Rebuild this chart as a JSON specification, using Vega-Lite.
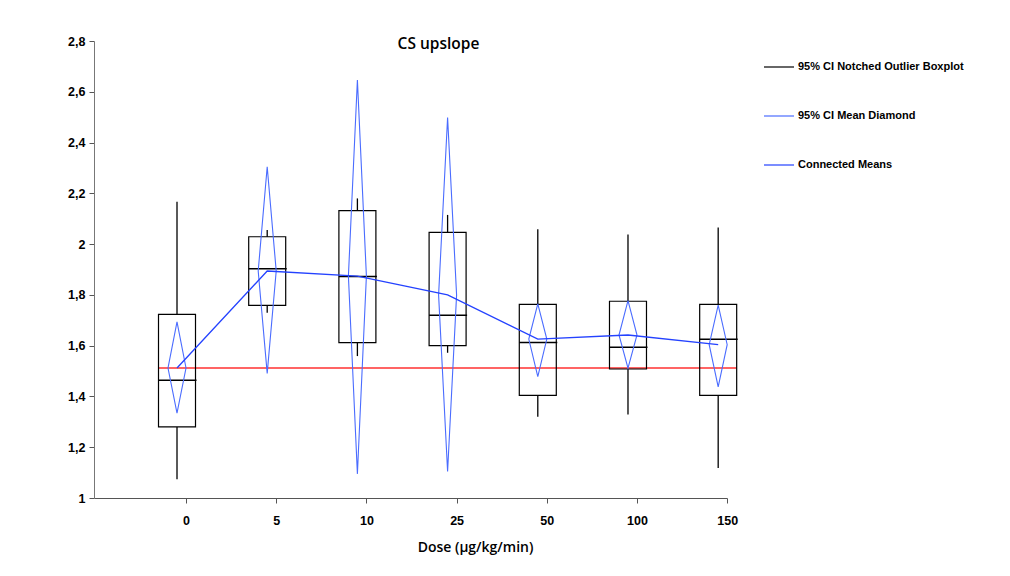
{
  "$schema": "https://vega.github.io/schema/vega-lite/v6.json",
  "autosize": "none",
  "width": 633,
  "height": 457,
  "padding": {"left": 94, "top": 41, "right": 283, "bottom": 78},
  "background": "white",
  "config": {
    "view": {"stroke": null},
    "legend": {"symbolType": "stroke", "symbolSize": 900, "symbolStrokeWidth": 1.2, "labelFont": "Liberation Sans", "labelFontWeight": "bold", "labelFontSize": 11, "labelColor": "#000", "labelLimit": 0, "rowPadding": 28, "labelOffset": 3, "padding": 0}
  },
  "title": {"text": "CS upslope", "anchor": "middle", "frame": "group", "dx": 28, "offset": 0, "dy": 17, "font": "Open Sans", "fontWeight": 600, "fontSize": 15.5, "color": "#000"},
  "datasets": {
    "summary": [
      {"dose": "0", "wlo": 1.074, "q1": 1.280, "med": 1.464, "q3": 1.723, "whi": 2.167, "mean": 1.512},
      {"dose": "5", "wlo": 1.730, "q1": 1.759, "med": 1.903, "q3": 2.029, "whi": 2.056, "mean": 1.894},
      {"dose": "10", "wlo": 1.559, "q1": 1.612, "med": 1.872, "q3": 2.132, "whi": 2.180, "mean": 1.874},
      {"dose": "25", "wlo": 1.572, "q1": 1.600, "med": 1.720, "q3": 2.046, "whi": 2.115, "mean": 1.800},
      {"dose": "50", "wlo": 1.320, "q1": 1.404, "med": 1.612, "q3": 1.763, "whi": 2.059, "mean": 1.626},
      {"dose": "100", "wlo": 1.329, "q1": 1.508, "med": 1.594, "q3": 1.775, "whi": 2.038, "mean": 1.642},
      {"dose": "150", "wlo": 1.118, "q1": 1.404, "med": 1.625, "q3": 1.763, "whi": 2.065, "mean": 1.604}
    ],
    "diamond": [
      {"dose": "0", "pt": 1, "side": "C", "v": 1.694}, {"dose": "0", "pt": 2, "side": "R", "v": 1.512}, {"dose": "0", "pt": 3, "side": "C", "v": 1.334}, {"dose": "0", "pt": 4, "side": "L", "v": 1.512}, {"dose": "0", "pt": 5, "side": "C", "v": 1.694},
      {"dose": "5", "pt": 1, "side": "C", "v": 2.305}, {"dose": "5", "pt": 2, "side": "R", "v": 1.894}, {"dose": "5", "pt": 3, "side": "C", "v": 1.491}, {"dose": "5", "pt": 4, "side": "L", "v": 1.894}, {"dose": "5", "pt": 5, "side": "C", "v": 2.305},
      {"dose": "10", "pt": 1, "side": "C", "v": 2.646}, {"dose": "10", "pt": 2, "side": "R", "v": 1.874}, {"dose": "10", "pt": 3, "side": "C", "v": 1.095}, {"dose": "10", "pt": 4, "side": "L", "v": 1.874}, {"dose": "10", "pt": 5, "side": "C", "v": 2.646},
      {"dose": "25", "pt": 1, "side": "C", "v": 2.499}, {"dose": "25", "pt": 2, "side": "R", "v": 1.800}, {"dose": "25", "pt": 3, "side": "C", "v": 1.104}, {"dose": "25", "pt": 4, "side": "L", "v": 1.800}, {"dose": "25", "pt": 5, "side": "C", "v": 2.499},
      {"dose": "50", "pt": 1, "side": "C", "v": 1.765}, {"dose": "50", "pt": 2, "side": "R", "v": 1.626}, {"dose": "50", "pt": 3, "side": "C", "v": 1.478}, {"dose": "50", "pt": 4, "side": "L", "v": 1.626}, {"dose": "50", "pt": 5, "side": "C", "v": 1.765},
      {"dose": "100", "pt": 1, "side": "C", "v": 1.777}, {"dose": "100", "pt": 2, "side": "R", "v": 1.642}, {"dose": "100", "pt": 3, "side": "C", "v": 1.511}, {"dose": "100", "pt": 4, "side": "L", "v": 1.642}, {"dose": "100", "pt": 5, "side": "C", "v": 1.777},
      {"dose": "150", "pt": 1, "side": "C", "v": 1.760}, {"dose": "150", "pt": 2, "side": "R", "v": 1.604}, {"dose": "150", "pt": 3, "side": "C", "v": 1.438}, {"dose": "150", "pt": 4, "side": "L", "v": 1.604}, {"dose": "150", "pt": 5, "side": "C", "v": 1.760}
    ]
  },
  "encoding": {
    "x": {
      "field": "dose", "type": "nominal", "sort": ["0", "5", "10", "25", "50", "100", "150"],
      "scale": {"type": "point", "domain": ["0", "5", "10", "25", "50", "100", "150"], "padding": 0.509, "align": 0.904},
      "axis": {"labelAngle": 0, "tickOffset": 9, "tickSize": 5, "tickColor": "#555", "domainColor": "#555", "labelFont": "Liberation Sans", "labelFontWeight": "bold", "labelFontSize": 12.5, "labelColor": "#000", "labelPadding": 11, "title": "Dose (µg/kg/min)", "titleFont": "Open Sans", "titleFontWeight": 600, "titleFontSize": 14, "titleColor": "#000", "titleX": 381, "titleY": 49, "titleBaseline": "middle", "titleAlign": "center"}
    }
  },
  "layer": [
    {
      "data": {"name": "summary"},
      "transform": [{"filter": "datum.dose == '0'"}],
      "mark": {"type": "rule", "stroke": "#ff3030", "strokeWidth": 1.3, "xOffset": -18.5, "x2Offset": 18.5},
      "encoding": {
        "x": {"datum": "0", "type": "nominal"},
        "x2": {"datum": "150"},
        "y": {"field": "mean", "type": "quantitative", "scale": {"domain": [1, 2.8], "nice": false, "zero": false},
          "axis": {"values": [1, 1.2, 1.4, 1.6, 1.8, 2, 2.2, 2.4, 2.6, 2.8], "labelExpr": "replace(format(datum.value, '.1~f'), '.', ',')", "grid": false, "title": null, "tickSize": 5, "tickColor": "#555", "domainColor": "#777", "labelFont": "Liberation Sans", "labelFontWeight": "bold", "labelFontSize": 12.5, "labelColor": "#000", "labelPadding": 4}}
      }
    },
    {
      "data": {"name": "summary"},
      "mark": {"type": "bar", "size": 37, "fill": "transparent", "strokeWidth": 1.2},
      "encoding": {
        "y": {"field": "q1", "type": "quantitative"},
        "y2": {"field": "q3"},
        "stroke": {"datum": "95% CI Notched Outlier Boxplot", "type": "nominal",
          "scale": {"domain": ["95% CI Notched Outlier Boxplot", "95% CI Mean Diamond", "Connected Means"], "range": ["#000000", "#4a6cff", "#2442ff"]},
          "legend": {"title": null, "orient": "none", "legendX": 669, "legendY": 10}}
      }
    },
    {
      "data": {"name": "summary"},
      "mark": {"type": "rule", "strokeWidth": 1.3},
      "encoding": {
        "y": {"field": "q3", "type": "quantitative"},
        "y2": {"field": "whi"},
        "stroke": {"datum": "95% CI Notched Outlier Boxplot", "type": "nominal"}
      }
    },
    {
      "data": {"name": "summary"},
      "mark": {"type": "rule", "strokeWidth": 1.3},
      "encoding": {
        "y": {"field": "wlo", "type": "quantitative"},
        "y2": {"field": "q1"},
        "stroke": {"datum": "95% CI Notched Outlier Boxplot", "type": "nominal"}
      }
    },
    {
      "data": {"name": "summary"},
      "mark": {"type": "rule", "strokeWidth": 1.5, "xOffset": -18.5, "x2Offset": 19.5},
      "encoding": {
        "x2": {"field": "dose"},
        "y": {"field": "med", "type": "quantitative"},
        "stroke": {"datum": "95% CI Notched Outlier Boxplot", "type": "nominal"}
      }
    },
    {
      "data": {"name": "diamond"},
      "mark": {"type": "line", "strokeWidth": 1.1},
      "encoding": {
        "xOffset": {"field": "side", "type": "nominal", "scale": {"type": "point", "domain": ["L", "C", "R"], "range": [-9, 9], "padding": 0}},
        "y": {"field": "v", "type": "quantitative"},
        "order": {"field": "pt", "type": "quantitative"},
        "detail": {"field": "dose"},
        "stroke": {"datum": "95% CI Mean Diamond", "type": "nominal"}
      }
    },
    {
      "data": {"name": "summary"},
      "mark": {"type": "line", "strokeWidth": 1.3},
      "encoding": {
        "y": {"field": "mean", "type": "quantitative"},
        "stroke": {"datum": "Connected Means", "type": "nominal"}
      }
    }
  ]
}
